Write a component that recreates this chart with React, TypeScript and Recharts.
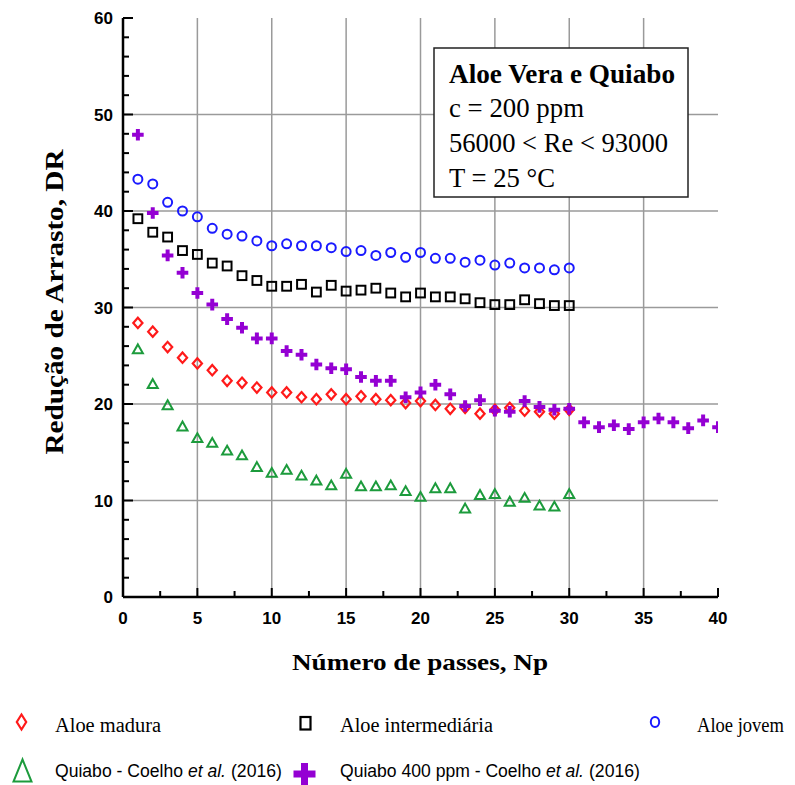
import React from 'react';
import { ScatterChart, Scatter, XAxis, YAxis, ReferenceLine } from 'recharts';

// número de passes
const passes30 = [1, 2, 3, 4, 5, 6, 7, 8, 9, 10, 11, 12, 13, 14, 15, 16, 17, 18, 19, 20, 21, 22, 23, 24, 25, 26, 27, 28, 29, 30];
const passes40 = [1, 2, 3, 4, 5, 6, 7, 8, 9, 10, 11, 12, 13, 14, 15, 16, 17, 18, 19, 20, 21, 22, 23, 24, 25, 26, 27, 28, 29, 30, 31, 32, 33, 34, 35, 36, 37, 38, 39, 40];

// redução de arrasto (DR)
const aloeMadura = [28.4, 27.5, 25.9, 24.8, 24.2, 23.5, 22.4, 22.2, 21.7, 21.2, 21.2, 20.7, 20.5, 21.0, 20.5, 20.8, 20.5, 20.4, 20.1, 20.3, 19.9, 19.5, 19.6, 19.0, 19.4, 19.6, 19.3, 19.2, 19.0, 19.4];
const aloeIntermediaria = [39.2, 37.8, 37.3, 35.9, 35.5, 34.6, 34.3, 33.3, 32.8, 32.2, 32.2, 32.4, 31.6, 32.3, 31.7, 31.8, 32.0, 31.5, 31.1, 31.5, 31.1, 31.1, 30.9, 30.5, 30.3, 30.3, 30.8, 30.4, 30.2, 30.2];
const aloeJovem = [43.3, 42.8, 40.9, 40.0, 39.4, 38.2, 37.6, 37.4, 36.9, 36.4, 36.6, 36.4, 36.4, 36.2, 35.8, 35.9, 35.4, 35.7, 35.2, 35.7, 35.1, 35.1, 34.7, 34.9, 34.4, 34.6, 34.1, 34.1, 33.9, 34.1];
const quiabo = [25.7, 22.1, 19.9, 17.7, 16.5, 16.0, 15.2, 14.7, 13.5, 12.9, 13.2, 12.6, 12.1, 11.6, 12.8, 11.5, 11.5, 11.6, 11.0, 10.4, 11.3, 11.3, 9.2, 10.6, 10.7, 9.9, 10.3, 9.5, 9.4, 10.7];
const quiabo400 = [47.9, 39.8, 35.4, 33.6, 31.5, 30.3, 28.8, 27.9, 26.8, 26.8, 25.5, 25.1, 24.1, 23.7, 23.6, 22.8, 22.4, 22.4, 20.7, 21.2, 22.0, 21.0, 19.8, 20.4, 19.3, 19.2, 20.3, 19.7, 19.4, 19.5, 18.1, 17.6, 17.8, 17.4, 18.1, 18.5, 18.1, 17.5, 18.3, 17.6];

const xTicks = [0, 2.5, 5, 7.5, 10, 12.5, 15, 17.5, 20, 22.5, 25, 27.5, 30, 32.5, 35, 37.5, 40];
const yTicks = [0, 2, 4, 6, 8, 10, 12, 14, 16, 18, 20, 22, 24, 26, 28, 30, 32, 34, 36, 38, 40, 42, 44, 46, 48, 50, 52, 54, 56, 58, 60];
const xGrid = [5, 10, 15, 20, 25, 30, 35];
const yGrid = [10, 20, 30, 40, 50];

const toPoints = (xs: number[], ys: number[]) => ys.map((dr, i) => ({ np: xs[i], dr }));

const SERIF = '"Liberation Serif", "Times New Roman", serif';
const SANS = '"Liberation Sans", Arial, sans-serif';

const RED = '#ff1a1a';
const BLACK = '#000000';
const BLUE = '#1a1aff';
const GREEN = '#1c9b3c';
const PURPLE = '#9400d3';

const Diamond = ({ cx, cy }: any) => (
  <path d={`M${cx},${cy - 5.2}L${cx + 4.6},${cy}L${cx},${cy + 5.2}L${cx - 4.6},${cy}Z`} fill="none" stroke={RED} strokeWidth={2.2} />
);
const Square = ({ cx, cy }: any) => (
  <rect x={cx - 4.4} y={cy - 4.4} width={8.8} height={8.8} fill="none" stroke={BLACK} strokeWidth={2} />
);
const Circle = ({ cx, cy }: any) => <circle cx={cx} cy={cy} r={4.5} fill="none" stroke={BLUE} strokeWidth={2} />;
const Triangle = ({ cx, cy }: any) => (
  <path d={`M${cx},${cy - 4.6}L${cx + 5},${cy + 4.2}L${cx - 5},${cy + 4.2}Z`} fill="none" stroke={GREEN} strokeWidth={2} />
);
const Plus = ({ cx, cy }: any) => {
  const a = 5.8;
  const t = 2;
  return (
    <path
      d={`M${cx - t},${cy - a}H${cx + t}V${cy - t}H${cx + a}V${cy + t}H${cx + t}V${cy + a}H${cx - t}V${cy + t}H${cx - a}V${cy - t}H${cx - t}Z`}
      fill={PURPLE}
    />
  );
};

const tickFont = { fontFamily: SANS, fontWeight: 700, fontSize: 17, fill: '#000' };

const LeftTick = ({ x, y, payload }: any) => {
  const major = payload.value % 10 === 0;
  return (
    <g>
      <line x1={x} y1={y} x2={x + (major ? 10 : 6)} y2={y} stroke="#000" strokeWidth={2} />
      {major && (
        <text x={x - 10} y={y + 6} textAnchor="end" {...tickFont}>
          {payload.value}
        </text>
      )}
    </g>
  );
};
const RightTick = ({ x, y, payload }: any) => {
  const major = payload.value % 10 === 0;
  return <line x1={x} y1={y} x2={x - (major ? 10 : 6)} y2={y} stroke="#000" strokeWidth={2} />;
};
const BottomTick = ({ x, y, payload }: any) => {
  const major = payload.value % 5 === 0;
  return (
    <g>
      <line x1={x} y1={y} x2={x} y2={y - (major ? 9 : 6)} stroke="#000" strokeWidth={2} />
      {major && (
        <text x={x} y={y + 27} textAnchor="middle" {...tickFont}>
          {payload.value}
        </text>
      )}
    </g>
  );
};
const TopTick = ({ x, y, payload }: any) => {
  const major = payload.value % 5 === 0;
  return <line x1={x} y1={y} x2={x} y2={y + (major ? 9 : 6)} stroke="#000" strokeWidth={2} />;
};

const axisLine = { stroke: '#000', strokeWidth: 2.5 };

const Overlay = () => (
  <svg width={795} height={785} style={{ position: 'absolute', left: 0, top: 0, pointerEvents: 'none' }}>
    {/* títulos dos eixos */}
    <text x={292} y={670} textLength={256} lengthAdjust="spacingAndGlyphs" fontFamily={SERIF} fontWeight={700} fontSize={23}>
      Número de passes, Np
    </text>
    <text
      x={63}
      y={302}
      transform="rotate(-90 63 302)"
      textAnchor="middle"
      textLength={305}
      lengthAdjust="spacingAndGlyphs"
      fontFamily={SERIF}
      fontWeight={700}
      fontSize={26}
    >
      Redução de Arrasto, DR
    </text>

    {/* caixa de condições */}
    <rect x={434} y={48} width={254} height={149} fill="#fff" stroke="#222" strokeWidth={1.5} />
    <g fontFamily={SERIF} fontSize={27} fill="#000">
      <text x={449} y={83} fontWeight={700} textLength={226} lengthAdjust="spacingAndGlyphs">Aloe Vera e Quiabo</text>
      <text x={449} y={117} textLength={135} lengthAdjust="spacingAndGlyphs">c = 200 ppm</text>
      <text x={449} y={152} textLength={219} lengthAdjust="spacingAndGlyphs">56000 &lt; Re &lt; 93000</text>
      <text x={449} y={187} textLength={106} lengthAdjust="spacingAndGlyphs">T = 25 °C</text>
    </g>

    {/* legenda */}
    <path d="M21.5,714.5L26.2,722L21.5,729.5L16.8,722Z" fill="none" stroke={RED} strokeWidth={2.2} />
    <rect x={300.5} y={717} width={10} height={12.5} fill="none" stroke={BLACK} strokeWidth={2.2} />
    <ellipse cx={655} cy={722} rx={4.2} ry={5} fill="none" stroke={BLUE} strokeWidth={2} />
    <path d="M22.5,759.5L31.5,781.5L13.5,781.5Z" fill="none" stroke={GREEN} strokeWidth={2} />
    <path d="M301,763H308V770.5H315.5V777.5H308V785H301V777.5H293.5V770.5H301Z" fill={PURPLE} />
    <g fontFamily={SERIF} fontSize={20.5} fill="#000">
      <text x={55} y={732} textLength={106} lengthAdjust="spacingAndGlyphs">Aloe madura</text>
      <text x={340} y={732} textLength={153} lengthAdjust="spacingAndGlyphs">Aloe intermediária</text>
      <text x={697} y={732} textLength={87} lengthAdjust="spacingAndGlyphs">Aloe jovem</text>
    </g>
    <g fontFamily={SANS} fontSize={17.5} fill="#000">
      <text x={55} y={777} textLength={128} lengthAdjust="spacingAndGlyphs">Quiabo - Coelho</text>
      <text x={188} y={777} textLength={38} lengthAdjust="spacingAndGlyphs" fontStyle="italic">et al.</text>
      <text x={231} y={777} textLength={51} lengthAdjust="spacingAndGlyphs">(2016)</text>
      <text x={340} y={777} textLength={201} lengthAdjust="spacingAndGlyphs">Quiabo 400 ppm - Coelho</text>
      <text x={546} y={777} textLength={38} lengthAdjust="spacingAndGlyphs" fontStyle="italic">et al.</text>
      <text x={589} y={777} textLength={51} lengthAdjust="spacingAndGlyphs">(2016)</text>
    </g>
  </svg>
);

export default function App() {
  return (
    <div style={{ position: 'absolute', left: 0, top: 0, width: 795, height: 785, background: '#fff' }}>
      <ScatterChart width={795} height={785} margin={{ top: 18, right: 77, bottom: 128, left: 0 }}>
        <XAxis
          dataKey="np"
          type="number"
          domain={[0, 40]}
          allowDataOverflow
          ticks={xTicks}
          interval={0}
          height={60}
          tickSize={0}
          tickMargin={0}
          tickLine={false}
          axisLine={axisLine}
          tick={(p: any) => <BottomTick {...p} />}
        />
        <XAxis
          xAxisId="top"
          orientation="top"
          dataKey="np"
          type="number"
          domain={[0, 40]}
          allowDataOverflow
          ticks={xTicks}
          interval={0}
          height={0}
          tickSize={0}
          tickMargin={0}
          tickLine={false}
          axisLine={axisLine}
          tick={(p: any) => <TopTick {...p} />}
        />
        <YAxis
          dataKey="dr"
          type="number"
          domain={[0, 60]}
          allowDataOverflow
          ticks={yTicks}
          interval={0}
          width={123}
          tickSize={0}
          tickMargin={0}
          tickLine={false}
          axisLine={axisLine}
          tick={(p: any) => <LeftTick {...p} />}
        />
        <YAxis
          yAxisId="right"
          orientation="right"
          dataKey="dr"
          type="number"
          domain={[0, 60]}
          allowDataOverflow
          ticks={yTicks}
          interval={0}
          width={0}
          tickSize={0}
          tickMargin={0}
          tickLine={false}
          axisLine={axisLine}
          tick={(p: any) => <RightTick {...p} />}
        />
        {xGrid.map((v) => (
          <ReferenceLine key={`gx${v}`} x={v} stroke="#9a9a9a" strokeWidth={1.5} />
        ))}
        {yGrid.map((v) => (
          <ReferenceLine key={`gy${v}`} y={v} stroke="#9a9a9a" strokeWidth={1.5} />
        ))}
        <Scatter name="Quiabo - Coelho et al. (2016)" data={toPoints(passes30, quiabo)} shape={(p: any) => <Triangle {...p} />} isAnimationActive={false} />
        <Scatter name="Aloe madura" data={toPoints(passes30, aloeMadura)} shape={(p: any) => <Diamond {...p} />} isAnimationActive={false} />
        <Scatter name="Aloe intermediária" data={toPoints(passes30, aloeIntermediaria)} shape={(p: any) => <Square {...p} />} isAnimationActive={false} />
        <Scatter name="Aloe jovem" data={toPoints(passes30, aloeJovem)} shape={(p: any) => <Circle {...p} />} isAnimationActive={false} />
        <Scatter name="Quiabo 400 ppm - Coelho et al. (2016)" data={toPoints(passes40, quiabo400)} shape={(p: any) => <Plus {...p} />} isAnimationActive={false} />
      </ScatterChart>
      <Overlay />
    </div>
  );
}
